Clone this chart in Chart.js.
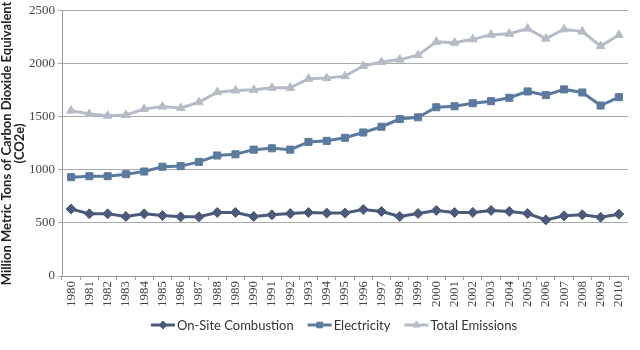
<!DOCTYPE html>
<html>
<head>
<meta charset="utf-8">
<script src="https://cdn.jsdelivr.net/npm/chart.js@4.4.1/dist/chart.umd.min.js"></script>
<style>
  html, body { margin: 0; padding: 0; background: #fff; }
  #wrap { width: 640px; height: 350px; }
</style>
</head>
<body>
<div id="wrap"><canvas id="chart" width="640" height="350"></canvas></div>
<script>
const years = ["1980", "1981", "1982", "1983", "1984", "1985", "1986", "1987", "1988", "1989",
    "1990", "1991", "1992", "1993", "1994", "1995", "1996", "1997", "1998", "1999",
    "2000", "2001", "2002", "2003", "2004", "2005", "2006", "2007", "2008", "2009", "2010"];

const onSiteCombustion = [631, 586, 586, 561, 586, 570, 558, 558, 599, 599,
    561, 577, 589, 599, 593, 593, 627, 608, 561, 589,
    618, 599, 599, 618, 608, 589, 529, 567, 577, 554, 583];

const electricity = [932, 941, 941, 960, 985, 1030, 1036, 1076, 1136, 1147,
    1191, 1204, 1191, 1264, 1274, 1303, 1353, 1407, 1480, 1496,
    1591, 1600, 1629, 1648, 1680, 1740, 1705, 1759, 1730, 1607, 1686];

const totalEmissions = [1559, 1527, 1511, 1518, 1575, 1597, 1584, 1638, 1733, 1749,
    1755, 1774, 1774, 1860, 1866, 1884, 1980, 2018, 2040, 2082,
    2208, 2199, 2231, 2275, 2284, 2332, 2237, 2326, 2304, 2167, 2272];

const yTicks = [0, 500, 1000, 1500, 2000, 2500];

const SERIES = [
    { label: "On-Site Combustion", data: onSiteCombustion, color: "#4a5a7a", point: "rectRot", radius: 5 },
    { label: "Electricity", data: electricity, color: "#5b7aa0", point: "rect", radius: 5 },
    { label: "Total Emissions", data: totalEmissions, color: "#b5bcc8", point: "triangle", radius: 5 },
];

// legend drawn on the canvas: short line with the marker in the middle
const legendPlugin = {
    id: "lineLegend",
    afterDraw(chart) {
        const ctx = chart.ctx;
        ctx.save();
        ctx.font = "13px Lato, 'Open Sans', sans-serif";
        ctx.textBaseline = "middle";
        const y = 325;
        const lineLen = 24;
        const gap = 2;
        const spacing = 14;
        const widths = SERIES.map((s) => lineLen + gap + ctx.measureText(s.label).width);
        const total = widths.reduce((a, b) => a + b, 0) + spacing * (SERIES.length - 1);
        let x = 334 - total / 2;
        SERIES.forEach((s, i) => {
            ctx.strokeStyle = s.color;
            ctx.lineWidth = 3;
            ctx.beginPath();
            ctx.moveTo(x, y);
            ctx.lineTo(x + lineLen, y);
            ctx.stroke();
            ctx.fillStyle = s.color;
            ctx.strokeStyle = s.color;
            ctx.lineWidth = 1;
            Chart.helpers.drawPoint(ctx, { pointStyle: s.point, radius: 4, borderWidth: 1 }, x + lineLen / 2, y);
            ctx.fillStyle = "#333";
            ctx.fillText(s.label, x + lineLen + gap, y + 1);
            x += widths[i] + spacing;
        });
        ctx.restore();
    },
};

new Chart(document.getElementById("chart"), {
    type: "line",
    data: {
        labels: years,
        datasets: SERIES.map((s) => ({
            label: s.label,
            data: s.data,
            borderColor: s.color,
            backgroundColor: s.color,
            borderWidth: 3,
            pointStyle: s.point,
            pointRadius: s.radius,
            pointBorderWidth: 1,
            tension: 0,
        })),
    },
    options: {
        responsive: false,
        animation: false,
        layout: { padding: { left: 0, right: 12, top: 6, bottom: 42 } },
        plugins: { legend: { display: false }, tooltip: { enabled: false } },
        scales: {
            x: {
                offset: true,
                grid: { display: true, drawOnChartArea: false, drawTicks: true, tickLength: 4, offset: true, color: "#999" },
                border: { color: "#999" },
                ticks: {
                    color: "#444",
                    font: { family: "'Liberation Serif', 'DejaVu Serif', serif", size: 13 },
                    maxRotation: 90,
                    minRotation: 90,
                    autoSkip: false,
                    padding: 1,
                },
            },
            y: {
                min: 0,
                max: 2500,
                afterBuildTicks(scale) { scale.ticks = yTicks.map((v) => ({ value: v })); },
                grid: { color: "#a8a8a8", tickLength: 4, lineWidth: 1 },
                border: { color: "#999" },
                ticks: {
                    color: "#444",
                    font: { family: "'Liberation Serif', 'DejaVu Serif', serif", size: 13 },
                    padding: 3,
                    callback: (v) => String(v),
                },
                title: {
                    display: true,
                    text: ["Million Metric Tons of Carbon Dioxide Equivalent", "(CO2e)"],
                    color: "#222",
                    font: { family: "Lato, 'Open Sans', sans-serif", size: 13, weight: "bold", lineHeight: 1.0 },
                    padding: { top: 0, bottom: 0 },
                },
            },
        },
    },
    plugins: [legendPlugin],
});
</script>
</body>
</html>
